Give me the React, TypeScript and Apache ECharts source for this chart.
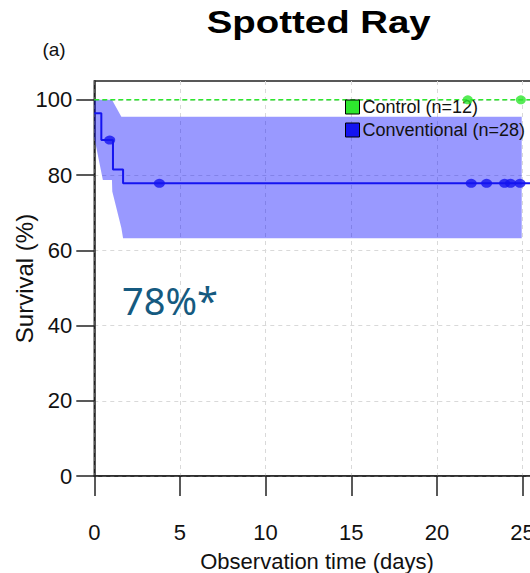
import React, { useEffect, useRef } from "react";
import * as echarts from "echarts";

// ---- data ----
const xTicks = [0, 5, 10, 15, 20, 25];
const yTicks = [0, 20, 40, 60, 80, 100];

const controlTimes = [0, 25.6];
const controlSurv = [100, 100];
const controlCensorTimes = [21.8, 24.9];
const controlCensorSurv = [100, 100];

const convTimes = [0, 0.41, 1.09, 1.68, 25.6];
const convSurv = [96.4, 89.3, 81.5, 77.8, 77.8];
const convCensorTimes = [0.9, 3.8, 22.0, 22.9, 23.95, 24.3, 24.85];
const convCensorSurv = [89.3, 77.8, 77.8, 77.8, 77.8, 77.8, 77.8];

const bandUpperTimes = [0, 1.03, 1.58, 24.95];
const bandUpperSurv = [100, 100, 95.5, 95.5];
const bandLowerTimes = [0, 0.5, 1.03, 1.05, 1.58, 1.68, 24.95];
const bandLowerSurv = [90, 78.7, 78.7, 75.6, 65.9, 63.2, 63.2];

const seriesNames = ["Control (n=12)", "Conventional (n=28)"];
const annotation = "78%*";

const GREEN = "#2ee62e";
const BLUE = "#1414f0";
const FONT = "'Liberation Sans', Arial, sans-serif";

export default function App() {
  const ref = useRef<HTMLDivElement>(null);

  useEffect(() => {
    if (!ref.current) return;
    const chart = echarts.init(ref.current, null, { renderer: "svg" });

    const upperPts = bandUpperTimes.map((t, i) => [t, bandUpperSurv[i]]);
    const lowerPts = bandLowerTimes.map((t, i) => [t, bandLowerSurv[i]]);

    const option: any = {
      animation: false,
      backgroundColor: "#ffffff",
      textStyle: { fontFamily: FONT },
      grid: {
        left: 94.3,
        top: 81,
        width: 445.4,
        height: 395,
        containLabel: false,
        outerBoundsMode: "none",
        show: true,
        borderColor: "#222",
        borderWidth: 1.5,
        backgroundColor: "transparent",
      },
      legend: {
        data: seriesNames,
        orient: "vertical",
        left: 345,
        top: 98,
        itemWidth: 14,
        itemHeight: 14,
        itemGap: 5,
        icon: "rect",
        padding: 0,
        itemStyle: { borderColor: "#000", borderWidth: 1 },
        textStyle: { fontSize: 18, color: "#111", fontFamily: FONT, padding: [0, 0, 0, -2] },
        selectedMode: false,
      },
      xAxis: {
        type: "value",
        min: 0,
        max: 26,
        interval: 5,
        name: "Observation time (days)",
        nameLocation: "middle",
        nameGap: 74,
        nameMoveOverlap: false,
        nameTextStyle: { fontSize: 22, color: "#111", fontFamily: FONT },
        axisLine: { show: true, lineStyle: { color: "#222", width: 1.5 } },
        axisTick: {
          show: true,
          inside: false,
          length: 20,
          customValues: xTicks,
          lineStyle: { color: "#222", width: 1.5 },
        },
        axisLabel: {
          show: true,
          margin: 45,
          fontSize: 22,
          color: "#111",
          fontFamily: FONT,
          customValues: xTicks,
        },
        splitLine: {
          show: true,
          lineStyle: { color: "#d9d9d9", type: [4, 4], width: 1 },
        },
      },
      yAxis: {
        type: "value",
        min: 0,
        max: 105,
        interval: 20,
        name: "Survival (%)",
        nameLocation: "middle",
        nameGap: 58,
        nameMoveOverlap: false,
        nameTextStyle: { fontSize: 24, color: "#111", fontFamily: FONT },
        axisLine: { show: true, lineStyle: { color: "#222", width: 1.5 } },
        axisTick: {
          show: true,
          inside: false,
          length: 18,
          customValues: yTicks,
          lineStyle: { color: "#222", width: 1.5 },
        },
        axisLabel: {
          show: true,
          margin: 22,
          fontSize: 22,
          color: "#111",
          fontFamily: FONT,
          customValues: yTicks,
        },
        splitLine: {
          show: true,
          lineStyle: { color: "#d9d9d9", type: [4, 4], width: 1 },
        },
      },
      series: [
        {
          type: "custom",
          name: "band",
          data: upperPts,
          encode: { x: 0, y: 1 },
          silent: true,
          clip: true,
          renderItem: (params: any, api: any) => {
            if (params.dataIndex !== 0) return null;
            const pts = [
              ...upperPts.map((p) => api.coord(p)),
              ...lowerPts
                .slice()
                .reverse()
                .map((p) => api.coord(p)),
            ];
            return {
              type: "polygon",
              shape: { points: pts },
              style: { fill: "rgba(0,0,255,0.4)", stroke: "none" },
            };
          },
          z: 1,
        },
        {
          type: "line",
          name: seriesNames[0],
          data: controlTimes.map((t, i) => [t, controlSurv[i]]),
          showSymbol: false,
          symbol: "none",
          itemStyle: { color: GREEN },
          lineStyle: { color: GREEN, width: 1.6, type: [5, 3] },
          z: 3,
        },
        {
          type: "scatter",
          name: "controlCensor",
          data: controlCensorTimes.map((t, i) => [t, controlCensorSurv[i]]),
          symbol: "circle",
          symbolSize: [10, 9],
          itemStyle: { color: GREEN },
          z: 4,
        },
        {
          type: "line",
          name: seriesNames[1],
          data: convTimes.map((t, i) => [t, convSurv[i]]),
          step: "end",
          showSymbol: false,
          symbol: "none",
          itemStyle: { color: BLUE },
          lineStyle: { color: BLUE, width: 2 },
          z: 3,
        },
        {
          type: "scatter",
          name: "convCensor",
          data: convCensorTimes.map((t, i) => [t, convCensorSurv[i]]),
          symbol: "circle",
          symbolSize: [11, 9],
          itemStyle: { color: BLUE },
          z: 4,
        },
      ],
      graphic: [
        {
          type: "text",
          x: 318.7,
          y: 22,
          scaleX: 1.2,
          style: {
            text: "Spotted Ray",
            x: 0,
            y: 0,
            textAlign: "center",
            textVerticalAlign: "middle",
            font: `bold 32px ${FONT}`,
            fill: "#000",
          },
        },
        {
          type: "text",
          x: 54,
          y: 49,
          style: {
            text: "(a)",
            textAlign: "center",
            textVerticalAlign: "middle",
            font: `19px ${FONT}`,
            fill: "#111",
          },
        },
        {
          type: "text",
          x: 122,
          y: 300,
          z: 10,
          style: {
            text: annotation,
            textAlign: "left",
            textVerticalAlign: "middle",
            font: `38px 'Noto Sans', 'Open Sans', sans-serif`,
            fill: "#155a80",
          },
        },
      ],
    };

    chart.setOption(option);
    return () => chart.dispose();
  }, []);

  return (
    <div
      ref={ref}
      style={{ position: "fixed", left: 0, top: 0, width: 530, height: 573 }}
    />
  );
}
